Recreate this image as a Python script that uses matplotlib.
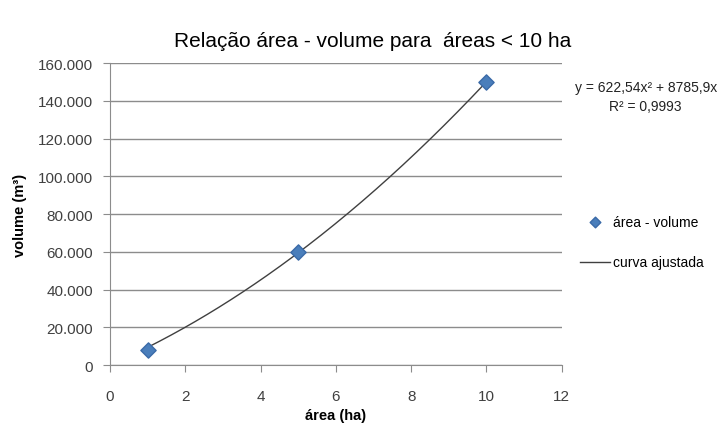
import numpy as np
import matplotlib.pyplot as plt
from matplotlib.ticker import FuncFormatter

plt.rcParams['font.family'] = ['Liberation Sans', 'DejaVu Sans']

# measured points
area = [1, 5, 10]
volume = [8000, 60000, 150000]

# fitted quadratic y = a*x^2 + b*x
a_coef = 622.54
b_coef = 8785.9
r2_text = "0,9993"

x_fit = np.linspace(1, 10, 200)
y_fit = a_coef * x_fit ** 2 + b_coef * x_fit

fig = plt.figure(figsize=(7.23, 4.39), dpi=100)
ax = fig.add_axes([0.152, 0.166, 0.625, 0.688])

line, = ax.plot(x_fit, y_fit, color='#404040', lw=1.0, label='curva ajustada', zorder=2)
pts = ax.scatter(area, volume, marker='D', s=60, color='#4a7ebb', edgecolor='#3a6aa8',
                 label='área - volume', zorder=3)

ax.set_xlim(0, 12)
ax.set_ylim(0, 160000)
ax.set_xticks(range(0, 13, 2))
ax.set_yticks(range(0, 160001, 20000))
ax.yaxis.set_major_formatter(FuncFormatter(lambda v, p: f"{int(v):,}".replace(",", ".")))
ax.grid(axis='y', color='#8c8c8c', lw=1.0)
ax.set_axisbelow(True)

for s in ['top', 'right']:
    ax.spines[s].set_visible(False)
for s in ['left', 'bottom']:
    ax.spines[s].set_color('#8c8c8c')
ax.tick_params(colors='#8c8c8c', labelcolor='#404040', labelsize=11, length=5)
ax.tick_params(axis='x', pad=12)
ax.tick_params(axis='y', pad=7)

fig.text(0.516, 0.905, 'Relação área - volume para  áreas < 10 ha', ha='center',
         va='center', fontsize=15)
ax.set_xlabel('área (ha)', fontsize=10.5, fontweight='bold', labelpad=4)
ax.set_ylabel('volume (m³)', fontsize=10.5, fontweight='bold', labelpad=8)

fig.text(0.893, 0.80, f"y = {a_coef:.2f}x² + {b_coef:.1f}x".replace(".", ","),
         ha='center', va='center', fontsize=10, color='#222222')
fig.text(0.893, 0.757, f"R² = {r2_text}", ha='center', va='center', fontsize=10,
         color='#222222')

fig.legend([pts, line], ['área - volume', 'curva ajustada'], loc='center left',
           bbox_to_anchor=(0.802, 0.446), frameon=False, fontsize=10,
           handlelength=2.2, handletextpad=0.2, labelspacing=1.9,
           borderpad=0, borderaxespad=0, markerscale=0.7)

fig.savefig('out.png', dpi=100)
